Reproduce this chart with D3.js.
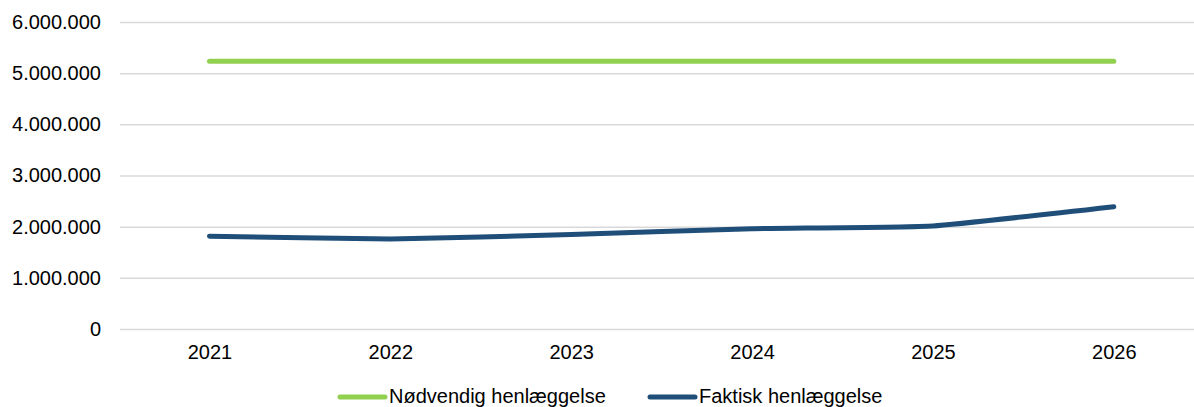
<!DOCTYPE html>
<html>
<head>
<meta charset="utf-8">
<script src="https://cdn.jsdelivr.net/npm/d3@7"></script>
<style>
    html, body { margin: 0; padding: 0; background: #fff; }
    svg { display: block; font-family: "Liberation Sans", Arial, sans-serif; }
</style>
</head>
<body>
<svg id="chart" width="1194" height="407"></svg>
<script>
// data
const years = ["2021", "2022", "2023", "2024", "2025", "2026"];
const noedvendig = [5235000, 5235000, 5235000, 5235000, 5235000, 5235000];
const faktisk = [1815000, 1760000, 1845000, 1960000, 2015000, 2390000];
const yTicks = [0, 1000000, 2000000, 3000000, 4000000, 5000000, 6000000];
const seriesNames = ["Nødvendig henlæggelse", "Faktisk henlæggelse"];
const seriesColors = ["#92D050", "#1F4E79"];

const svg = d3.select("#chart");

const x = d3.scalePoint()
    .domain(years)
    .range([209.5, 1113.8]);

const y = d3.scaleLinear()
    .domain([0, 6000000])
    .range([329, 22]);

const fmt = d => d3.format(",")(d).replace(/,/g, ".");

// gridlines + y labels
const yAxis = svg.append("g")
    .attr("transform", "translate(120,0)")
    .call(d3.axisLeft(y).tickValues(yTicks).tickSize(-1100).tickPadding(19).tickFormat(fmt));
yAxis.select(".domain").remove();
yAxis.selectAll(".tick line").attr("stroke", "#d9d9d9").attr("stroke-width", 1.5);
yAxis.selectAll(".tick text")
    .attr("fill", "#000")
    .style("font-size", "20px")
    .style("font-family", "Liberation Sans, Arial, sans-serif");

// x labels
const xAxis = svg.append("g")
    .attr("transform", "translate(0,329)")
    .call(d3.axisBottom(x).tickSize(0).tickPadding(16));
xAxis.select(".domain").remove();
xAxis.selectAll(".tick text")
    .attr("fill", "#000")
    .style("font-size", "20px")
    .style("font-family", "Liberation Sans, Arial, sans-serif");

const line = d3.line()
    .x((d, i) => x(years[i]))
    .y(d => y(d))
    .curve(d3.curveCardinal.tension(0.6));

[noedvendig, faktisk].forEach((vals, i) => {
    svg.append("path")
        .attr("fill", "none")
        .attr("stroke", seriesColors[i])
        .attr("stroke-width", 5)
        .attr("stroke-linecap", "round")
        .attr("stroke-linejoin", "round")
        .attr("d", line(vals));
});

// legend
const legendX = [340, 650];
seriesNames.forEach((name, i) => {
    const row = svg.append("g").attr("transform", `translate(${legendX[i]},397)`);
    row.append("line")
        .attr("x1", 0).attr("x2", 45)
        .attr("stroke", seriesColors[i])
        .attr("stroke-width", 5)
        .attr("stroke-linecap", "round");
    row.append("text")
        .attr("x", 49).attr("y", 6)
        .style("font-size", "20px")
        .attr("fill", "#000")
        .text(name);
});
</script>
</body>
</html>
